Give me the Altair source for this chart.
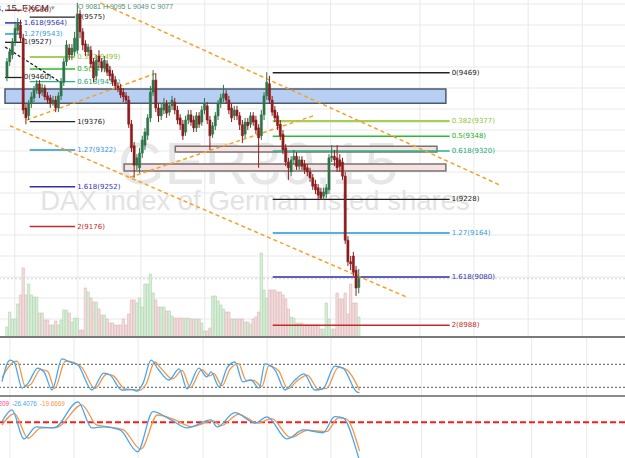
import altair as alt
import pandas as pd

# ---------------- data ----------------
opens = [9461, 9490, 9503, 9528, 9550, 9560, 9535, 9402, 9387, 9410,
         9421, 9436, 9448, 9432, 9440, 9425, 9421, 9410, 9417, 9402,
         9425, 9451, 9490, 9516, 9503, 9509, 9512, 9581, 9547, 9524,
         9509, 9512, 9490, 9463, 9501, 9490, 9478, 9486, 9474, 9467,
         9455, 9444, 9440, 9432, 9425, 9417, 9371, 9330, 9293, 9288,
         9316, 9331, 9350, 9383, 9432, 9455, 9402, 9387, 9398, 9410,
         9394, 9406, 9413, 9398, 9383, 9371, 9356, 9379, 9389, 9379,
         9364, 9387, 9375, 9398, 9406, 9379, 9352, 9368, 9387, 9410,
         9421, 9429, 9417, 9402, 9387, 9398, 9387, 9370, 9352, 9375,
         9371, 9387, 9379, 9364, 9349, 9389, 9425, 9448, 9417, 9398,
         9387, 9371, 9352, 9326, 9299, 9280, 9303, 9310, 9291, 9303,
         9295, 9288, 9280, 9269, 9257, 9250, 9242, 9234, 9238, 9246,
         9307, 9310, 9307, 9303, 9299, 9272, 9150, 9109, 9120, 9093,
         9060]
highs = [9497, 9516, 9535, 9566, 9573, 9570, 9543, 9410, 9417, 9432,
         9444, 9455, 9455, 9448, 9446, 9432, 9427, 9425, 9425, 9432,
         9459, 9497, 9531, 9524, 9524, 9547, 9602, 9589, 9554, 9531,
         9524, 9520, 9497, 9503, 9512, 9497, 9501, 9493, 9482, 9474,
         9463, 9451, 9448, 9440, 9432, 9425, 9379, 9337, 9314, 9326,
         9349, 9364, 9390, 9444, 9474, 9468, 9410, 9410, 9421, 9417,
         9413, 9425, 9421, 9406, 9390, 9379, 9387, 9398, 9398, 9387,
         9394, 9394, 9406, 9421, 9413, 9387, 9375, 9394, 9417, 9429,
         9446, 9436, 9425, 9410, 9406, 9406, 9394, 9379, 9383, 9383,
         9394, 9394, 9387, 9371, 9398, 9432, 9470, 9463, 9425, 9406,
         9394, 9379, 9360, 9333, 9307, 9310, 9322, 9318, 9310, 9310,
         9303, 9295, 9288, 9276, 9265, 9257, 9250, 9250, 9257, 9314,
         9331, 9322, 9331, 9314, 9307, 9280, 9158, 9120, 9128, 9101,
         9095]
lows = [9453, 9482, 9495, 9520, 9543, 9528, 9390, 9371, 9379, 9402,
        9413, 9429, 9421, 9425, 9417, 9410, 9402, 9406, 9394, 9394,
        9417, 9444, 9482, 9493, 9493, 9501, 9505, 9535, 9512, 9501,
        9501, 9478, 9451, 9455, 9478, 9470, 9470, 9463, 9455, 9444,
        9436, 9432, 9421, 9413, 9410, 9364, 9318, 9269, 9284, 9278,
        9307, 9322, 9341, 9375, 9425, 9394, 9375, 9379, 9390, 9383,
        9387, 9398, 9390, 9371, 9360, 9341, 9349, 9371, 9368, 9356,
        9356, 9364, 9368, 9390, 9371, 9322, 9345, 9360, 9379, 9402,
        9413, 9410, 9390, 9375, 9379, 9379, 9360, 9335, 9345, 9360,
        9364, 9368, 9352, 9288, 9341, 9379, 9417, 9410, 9387, 9375,
        9360, 9341, 9314, 9291, 9265, 9272, 9295, 9284, 9284, 9284,
        9276, 9272, 9261, 9246, 9238, 9229, 9227, 9227, 9230, 9238,
        9299, 9291, 9280, 9280, 9265, 9143, 9101, 9093, 9082, 9044,
        9049]
closes = [9490, 9509, 9528, 9554, 9562, 9535, 9398, 9383, 9410, 9423,
          9436, 9448, 9429, 9440, 9423, 9417, 9410, 9417, 9402, 9425,
          9451, 9490, 9522, 9503, 9516, 9535, 9581, 9547, 9522, 9509,
          9518, 9486, 9459, 9493, 9490, 9478, 9493, 9470, 9463, 9451,
          9444, 9440, 9427, 9423, 9417, 9371, 9326, 9293, 9307, 9316,
          9341, 9356, 9383, 9432, 9455, 9402, 9387, 9402, 9410, 9392,
          9406, 9417, 9398, 9379, 9370, 9349, 9379, 9389, 9375, 9364,
          9387, 9371, 9398, 9410, 9379, 9349, 9368, 9387, 9410, 9421,
          9429, 9417, 9398, 9383, 9398, 9387, 9370, 9349, 9375, 9368,
          9387, 9375, 9360, 9345, 9389, 9425, 9451, 9417, 9394, 9383,
          9368, 9349, 9322, 9299, 9288, 9303, 9310, 9291, 9303, 9291,
          9284, 9280, 9269, 9253, 9246, 9236, 9230, 9242, 9250, 9307,
          9310, 9303, 9288, 9291, 9272, 9150, 9109, 9105, 9089, 9059,
          9077]
volumes = [220, 520, 380, 380, 680, 860, 1400, 860, 1080, 860,
           820, 820, 500, 500, 360, 360, 260, 260, 340, 260,
           360, 560, 560, 500, 320, 400, 400, 160, 160, 1000,
           920, 800, 720, 720, 580, 460, 460, 380, 300, 300,
           260, 260, 260, 380, 260, 480, 760, 760, 700, 800,
           620, 1080, 1080, 1280, 900, 760, 620, 620, 620, 540,
           540, 440, 400, 400, 400, 400, 400, 400, 380, 380,
           380, 380, 300, 140, 140, 200, 840, 840, 740, 660,
           580, 520, 520, 380, 380, 380, 380, 380, 320, 320,
           280, 380, 420, 520, 1700, 960, 800, 960, 960, 960,
           920, 920, 860, 780, 580, 420, 400, 300, 300, 300,
           260, 260, 260, 260, 260, 260, 180, 180, 700, 380,
           180, 180, 900, 780, 780, 900, 480, 1080, 700, 700,
           420]

# stochastic (%K blue, %D orange): bar index / value
stoch_k_idx = [0, 2.9, 4.4, 7.3, 9.5, 13, 15.3, 18.2, 21.8, 24.7, 27.6, 32.7, 37, 39.3,
               43.6, 47.3, 49, 51.3, 54.2, 57, 60.7, 64.4, 67.3, 71.6, 74.5, 76, 79,
               81.8, 84.7, 87.6, 90.5, 93.5, 95.6, 99.3, 102.9, 106.5, 109.8, 113.8,
               116.7, 121, 124, 129, 130]
stoch_k_val = [35, 91, 86, 18, 31, 70, 60, 13, 94, 86, 78, 13, 57, 52,
               13, 14, 10, 31, 91, 65, 39, 68, 16, 70, 47, 60, 21,
               70, 86, 34, 39, 18, 81, 65, 13, 39, 55, 13,
               16, 75, 70, 8, 6]
stoch_d_idx = [0, 4, 5.5, 8.5, 10.5, 14, 16.5, 19.2, 23, 26, 29, 33.8, 38, 40.5,
               44.6, 48, 50, 52.5, 55.5, 58, 62, 65.5, 68.5, 72.6, 75.5, 77, 80,
               83, 86, 88.8, 91.5, 94.5, 97, 100.5, 104, 107.5, 111, 115,
               118, 122.3, 125.3, 130]
stoch_d_val = [45, 85, 88, 22, 28, 66, 62, 17, 88, 85, 72, 17, 54, 50,
               16, 14, 12, 30, 86, 68, 42, 64, 19, 66, 50, 56, 24,
               68, 82, 38, 38, 22, 76, 64, 16, 38, 52, 16,
               17, 72, 66, 12]

# lower oscillator (blue / orange)
osc_b_idx = [0, 3.6, 8, 12.4, 18.9, 27.6, 32.7, 37, 42.9, 49.3, 54.9, 61.5, 67.3, 76,
             78.2, 84.7, 92, 96.4, 103.6, 109.5, 116.7, 121, 124, 129, 130]
osc_b_val = [0.4, 8.5, -11.5, -3.2, -3.9, 14, -3.9, -3.2, -5.3, -20.3, 7.3, 1.6, -3.9, 1.6,
             -3.2, 6.6, -0.5, 3.7, -11.5, -5.3, -7.2, 3.9, 3, -20, -26.4]
osc_o_idx = [0, 4.5, 9.5, 14, 20, 29, 34.5, 38, 44, 50.5, 56.5, 62.5, 69, 77,
             79.5, 86, 93, 98, 105, 111, 118, 122.3, 125, 130]
osc_o_val = [-2, 6, -11, -4, -3.5, 12, -2, -3, -5, -18.5, 5, 2, -3, 1,
             -2.5, 5.5, -0.5, 2.5, -10.5, -5.5, -6.5, 3, 2.5, -19.7]
osc_labels = ["209", "-26.4076", "-19.6669"]

# Fibonacci sets
fib_a_levels = ["2", "1.618", "1.27", "1", "0"]
fib_a_prices = [9588, 9564, 9543, 9527, 9460]
fib_b_levels = ["0", "0.382", "0.5", "0.618", "1", "1.27", "1.618", "2"]
fib_b_prices = [9575, 9499, 9476, 9452, 9376, 9322, 9252, 9176]
fib_c_levels = ["0", "0.382", "0.5", "0.618", "1", "1.27", "1.618", "2"]
fib_c_prices = [9469, 9377, 9348, 9320, 9228, 9164, 9080, 8988]
fib_spans = {"a": (-0.73, 5.45), "b": (8.4, 25.2), "c": (98.2, 163.6)}

# trend lines: (start bar, start price, end bar, end price)
trend_names = ["upper", "lower", "left_up", "mid_up", "black"]
trend_x0 = [34.5, 1.1, 7.3, 45.5, -0.7]
trend_p0 = [9602, 9368, 9379, 9270, 9518]
trend_x1 = [182.2, 147.6, 55.6, 113.8, 20.4]
trend_p1 = [9255, 9042, 9469, 9388, 9449]

# zones: (start bar, end bar, low, high)
zone_names = ["blue", "pink1", "pink2"]
zone_x0 = [-0.73, 62.2, 43.3]
zone_x1 = [162.2, 158.9, 162.2]
zone_lo = [9411, 9318, 9282]
zone_hi = [9438, 9329, 9295]

price_grid = [9600 - 40 * k for k in range(16)]
time_grid = [2.9, 26.2, 49.5, 73.1, 96.4, 119.6, 152.6, 172.6, 192.6, 212.6]
last_price = 9077

# ---------------- layout ----------------
W = 625
H_MAIN, H_STO, H_OSC = 338, 59, 61
X_DOM = [-0.727, 226.545]
P_DOM = [8963.8, 9607.6]
V_DOM = [0, 6760]
S_DOM = [-5.3, 148.6]
O_DOM = [-24.6, 17.4]

xs = alt.Scale(domain=X_DOM, nice=False, zero=False)
ps = alt.Scale(domain=P_DOM, nice=False, zero=False)

UP, DN = "#2e7449", "#8c1c1c"
GRID = "#e9e9e9"
FONT = "DejaVu Sans"

lvl_color = {"0": "#222222", "0.382": "#a5cf5a", "0.5": "#2dbb2d", "0.618": "#25b585",
             "1": "#222222", "1.27": "#5aaee0", "1.618": "#3030a8", "2": "#c42a2a"}
lbl_color = {"0": "#222222", "0.382": "#93bf3a", "0.5": "#22aa22", "0.618": "#1aa874",
             "1": "#222222", "1.27": "#3a9ad9", "1.618": "#3535b0", "2": "#c62828"}
lvl_width = {"0": 1.3, "0.382": 2.2, "0.5": 1.5, "0.618": 1.3, "1": 1.3,
             "1.27": 2.0, "1.618": 1.5, "2": 1.5}

cd = pd.DataFrame({"i": list(range(len(closes))), "open": opens, "high": highs,
                   "low": lows, "close": closes, "vol": volumes})
cd["col"] = [UP if c >= o else DN for o, c in zip(opens, closes)]
cd["vfill"] = ["#d9eed9" if c >= o else "#f2dede" for o, c in zip(opens, closes)]
cd["vstroke"] = ["#acd5ac" if c >= o else "#ddb6b6" for o, c in zip(opens, closes)]

rows = []
for key, levels, prices in (("a", fib_a_levels, fib_a_prices),
                            ("b", fib_b_levels, fib_b_prices),
                            ("c", fib_c_levels, fib_c_prices)):
    x0, x1 = fib_spans[key]
    for lv, pr in zip(levels, prices):
        rows.append({"x0": x0, "x1": x1, "p": pr, "col": lvl_color[lv],
                     "lcol": lbl_color[lv], "w": lvl_width[lv],
                     "label": f"{lv}({pr})"})
fib = pd.DataFrame(rows)

tr_rows = []
for n, a, b, c, d in zip(trend_names, trend_x0, trend_p0, trend_x1, trend_p1):
    tr_rows += [{"name": n, "x": a, "p": b, "o": 0}, {"name": n, "x": c, "p": d, "o": 1}]
tr = pd.DataFrame(tr_rows)
zones = pd.DataFrame({"name": zone_names, "x0": zone_x0, "x1": zone_x1,
                      "lo": zone_lo, "hi": zone_hi,
                      "fill": ["#b7cff2", "#f6e2e2", "#f6e2e2"],
                      "stroke": ["#4b5a6e", "#7a7272", "#7a7272"]})

X = alt.X("i:Q", scale=xs, axis=None)

vgrid = alt.Chart(pd.DataFrame({"g": time_grid})).mark_rule(color=GRID, strokeWidth=1, clip=True).encode(
    x=alt.X("g:Q", scale=xs, axis=None))
hgrid = alt.Chart(pd.DataFrame({"p": price_grid})).mark_rule(color=GRID, strokeWidth=1, clip=True).encode(
    y=alt.Y("p:Q", scale=ps, axis=None))

wm1 = alt.Chart(pd.DataFrame({"t": ["GER30,15"]})).mark_text(
    font="Liberation Sans", fontSize=60, color="#e7e7e7",
    align="center", baseline="alphabetic", clip=True
).encode(x=alt.value(258), y=alt.value(184), text="t:N")
wm2 = alt.Chart(pd.DataFrame({"t": ["DAX index of German listed shares"]})).mark_text(
    font="Liberation Sans", fontSize=27.5, color="#e3e3e3", align="center", baseline="alphabetic", clip=True
).encode(x=alt.value(255), y=alt.value(210), text="t:N")

vol = alt.Chart(cd).mark_bar(size=2.4, strokeWidth=0.6, clip=True).encode(
    x=X, y=alt.Y("vol:Q", scale=alt.Scale(domain=V_DOM, nice=False), axis=None),
    y2=alt.datum(0),
    fill=alt.Fill("vfill:N", scale=None), stroke=alt.Stroke("vstroke:N", scale=None))

zone_l = alt.Chart(zones).mark_rect(strokeWidth=1.5, clip=True).encode(
    x=alt.X("x0:Q", scale=xs, axis=None), x2="x1:Q",
    y=alt.Y("lo:Q", scale=ps, axis=None), y2="hi:Q",
    fill=alt.Fill("fill:N", scale=None), stroke=alt.Stroke("stroke:N", scale=None))

fib_l = alt.Chart(fib).mark_rule(clip=True).encode(
    x=alt.X("x0:Q", scale=xs, axis=None), x2="x1:Q",
    y=alt.Y("p:Q", scale=ps, axis=None),
    color=alt.Color("col:N", scale=None), strokeWidth=alt.StrokeWidth("w:Q", scale=None))
fib_t = alt.Chart(fib).mark_text(font=FONT, fontSize=7, align="left", baseline="middle", dx=2, clip=True).encode(
    x=alt.X("x1:Q", scale=xs, axis=None), y=alt.Y("p:Q", scale=ps, axis=None),
    text="label:N", color=alt.Color("lcol:N", scale=None))

trend_o = alt.Chart(tr[tr["name"] != "black"]).mark_line(
    color="#f7a128", strokeDash=[4, 3], strokeWidth=1.5, clip=True).encode(
    x=alt.X("x:Q", scale=xs, axis=None), y=alt.Y("p:Q", scale=ps, axis=None),
    detail="name:N", order="o:Q")
trend_k = alt.Chart(tr[tr["name"] == "black"]).mark_line(
    color="#222222", strokeDash=[3, 2], strokeWidth=1.3, clip=True).encode(
    x=alt.X("x:Q", scale=xs, axis=None), y=alt.Y("p:Q", scale=ps, axis=None),
    detail="name:N", order="o:Q")

lastp = alt.Chart(pd.DataFrame({"p": [last_price]})).mark_rule(
    color="#d6dcdc", strokeDash=[2, 2], strokeWidth=1.5, clip=True).encode(y=alt.Y("p:Q", scale=ps, axis=None))

wick = alt.Chart(cd).mark_rule(strokeWidth=1, clip=True).encode(
    x=X, y=alt.Y("low:Q", scale=ps, axis=None), y2="high:Q",
    color=alt.Color("col:N", scale=None))
body = alt.Chart(cd).mark_bar(size=2.2, strokeWidth=0.5, clip=True).encode(
    x=X, y=alt.Y("open:Q", scale=ps, axis=None), y2="close:Q",
    fill=alt.Fill("col:N", scale=None), stroke=alt.Stroke("col:N", scale=None))

hdr1 = alt.Chart(pd.DataFrame({"t": ["DAX index of German listed shares, 15, FXCM"]})).mark_text(
    font="Liberation Sans", fontSize=9.5, color="#333333", align="right", baseline="middle", clip=True
).encode(x=alt.value(49), y=alt.value(8), text="t:N")
hdr_arrow = alt.Chart(pd.DataFrame({"t": ["▾"]})).mark_text(
    font=FONT, fontSize=7, color="#999999", align="left", baseline="middle", clip=True
).encode(x=alt.value(51), y=alt.value(8), text="t:N")
hdr2 = alt.Chart(pd.DataFrame({"t": ["O 9081 H 9095 L 9049 C 9077"]})).mark_text(
    font="Liberation Sans", fontSize=7, color="#4f8f78", align="left", baseline="middle", clip=True
).encode(x=alt.value(78), y=alt.value(7), text="t:N")

sep_main = alt.Chart(pd.DataFrame({"a": [0]})).mark_rule(color="#7a7a7a", strokeWidth=2, clip=True).encode(
    x=alt.value(0), x2=alt.value(W), y=alt.value(H_MAIN - 1))

main = alt.layer(vgrid, hgrid, wm1, wm2, vol, zone_l, lastp, fib_l, fib_t, trend_o, trend_k,
                 wick, body, hdr1, hdr_arrow, hdr2, sep_main).resolve_scale(y="independent").properties(
    width=W, height=H_MAIN)

# stochastic panel
sk = pd.DataFrame({"x": stoch_k_idx, "v": stoch_k_val})
sdd = pd.DataFrame({"x": stoch_d_idx, "v": stoch_d_val})
ss = alt.Scale(domain=S_DOM, nice=False, zero=False)
s_vgrid = alt.Chart(pd.DataFrame({"g": time_grid})).mark_rule(color=GRID, clip=True).encode(
    x=alt.X("g:Q", scale=xs, axis=None))
s_lv = alt.Chart(pd.DataFrame({"v": [80, 20]})).mark_rule(
    color="#555555", strokeDash=[2, 2], strokeWidth=1, clip=True).encode(y=alt.Y("v:Q", scale=ss, axis=None))
s_k = alt.Chart(sk).mark_line(color="#4aa6ee", strokeWidth=1.3, interpolate="monotone", clip=True).encode(
    x=alt.X("x:Q", scale=xs, axis=None), y=alt.Y("v:Q", scale=ss, axis=None))
s_d = alt.Chart(sdd).mark_line(color="#f2964a", strokeWidth=1.3, interpolate="monotone", clip=True).encode(
    x=alt.X("x:Q", scale=xs, axis=None), y=alt.Y("v:Q", scale=ss, axis=None))
sep_sto = alt.Chart(pd.DataFrame({"a": [0]})).mark_rule(color="#8a8a8a", strokeWidth=2, clip=True).encode(
    x=alt.value(0), x2=alt.value(W), y=alt.value(H_STO - 1))
sto = alt.layer(s_vgrid, s_lv, s_d, s_k, sep_sto).properties(width=W, height=H_STO)

# lower oscillator panel
ob = pd.DataFrame({"x": osc_b_idx, "v": osc_b_val})
oo = pd.DataFrame({"x": osc_o_idx, "v": osc_o_val})
os_ = alt.Scale(domain=O_DOM, nice=False, zero=False)
o_vgrid = alt.Chart(pd.DataFrame({"g": time_grid})).mark_rule(color=GRID, clip=True).encode(
    x=alt.X("g:Q", scale=xs, axis=None))
o_zero = alt.Chart(pd.DataFrame({"v": [0]})).mark_rule(
    color="#ff1a1a", strokeDash=[6, 3], strokeWidth=2, clip=True).encode(y=alt.Y("v:Q", scale=os_, axis=None))
o_b = alt.Chart(ob).mark_line(color="#4aa6ee", strokeWidth=1.3, interpolate="monotone", clip=True).encode(
    x=alt.X("x:Q", scale=xs, axis=None), y=alt.Y("v:Q", scale=os_, axis=None))
o_o = alt.Chart(oo).mark_line(color="#f2964a", strokeWidth=1.3, interpolate="monotone", clip=True).encode(
    x=alt.X("x:Q", scale=xs, axis=None), y=alt.Y("v:Q", scale=os_, axis=None))
lbl_df = pd.DataFrame({"t": osc_labels, "c": ["#ff3c8c", "#4aa6ee", "#f2964a"], "px": [9, 12, 40]})
o_lbl_r = alt.Chart(lbl_df.iloc[:1]).mark_text(
    font="Liberation Sans", fontSize=6.3, align="right", baseline="middle", clip=True).encode(
    x=alt.X("px:Q", scale=None, axis=None), y=alt.value(7), text="t:N",
    color=alt.Color("c:N", scale=None))
o_lbl_l = alt.Chart(lbl_df.iloc[1:]).mark_text(
    font="Liberation Sans", fontSize=6.3, align="left", baseline="middle", clip=True).encode(
    x=alt.X("px:Q", scale=None, axis=None), y=alt.value(7), text="t:N",
    color=alt.Color("c:N", scale=None))
osc = alt.layer(o_vgrid, o_zero, o_o, o_b, o_lbl_r, o_lbl_l).properties(width=W, height=H_OSC)

chart = alt.vconcat(main, sto, osc, spacing=0).properties(
    padding=0
).configure_view(stroke=None).configure_concat(spacing=0)

chart.save("out.html", embed_options={"renderer": "svg", "actions": False})
